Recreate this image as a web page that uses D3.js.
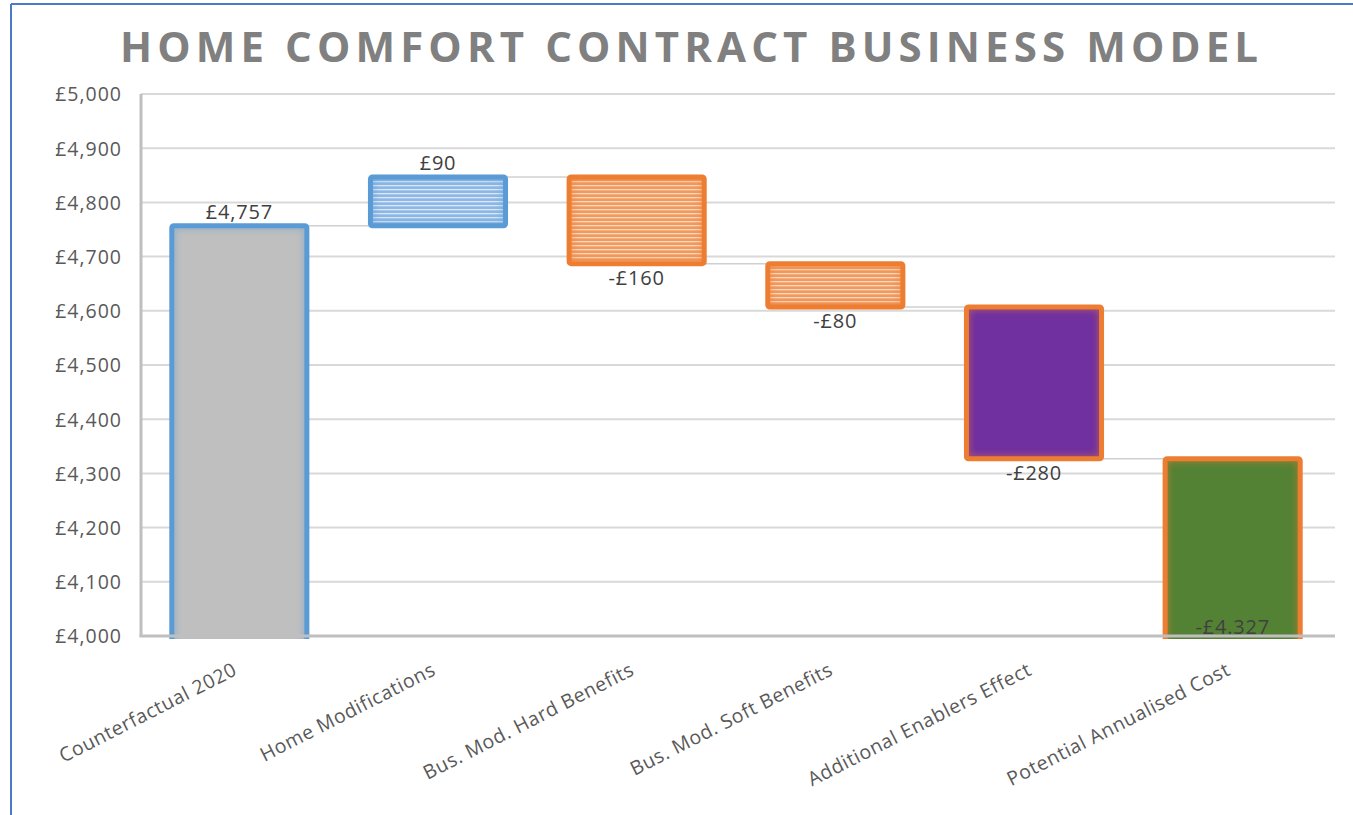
<!DOCTYPE html>
<html>
<head>
<meta charset="utf-8">
<script src="https://cdn.jsdelivr.net/npm/d3@7"></script>
<style>
  html, body { margin: 0; padding: 0; background: #fff; }
  svg { display: block; }
  text { font-family: "Open Sans", "Noto Sans", sans-serif; }
</style>
</head>
<body>
<svg id="chart" width="1353" height="815"></svg>
<script>
// Waterfall steps: annual cost build-up (GBP)
const categories = [
  "Counterfactual 2020",
  "Home Modifications",
  "Bus. Mod. Hard Benefits",
  "Bus. Mod. Soft Benefits",
  "Additional Enablers Effect",
  "Potential Annualised Cost"
];
const stepValues = [4757, 90, -160, -80, -280, 4327];
const isTotal = [true, false, false, false, false, true];
const valueLabels = ["£4,757", "£90", "-£160", "-£80", "-£280", "-£4.327"];
const yTicks = [4000, 4100, 4200, 4300, 4400, 4500, 4600, 4700, 4800, 4900, 5000];
const fillKeys = ["grey", "blueHatch", "orangeHatch", "orangeHatch", "purple", "green"];
const strokeColors = ["#5b9bd5", "#5b9bd5", "#ed7d31", "#ed7d31", "#ed7d31", "#ed7d31"];
const title = "HOME COMFORT CONTRACT BUSINESS MODEL";

// Running totals -> start/end of each bar
let running = 0;
const bars = categories.map((c, i) => {
  let start, end;
  if (isTotal[i]) { start = 0; end = stepValues[i]; running = stepValues[i]; }
  else { start = running; end = running + stepValues[i]; running = end; }
  return { cat: c, start, end, value: stepValues[i], label: valueLabels[i], fill: fillKeys[i], stroke: strokeColors[i], total: isTotal[i], i };
});

const svg = d3.select("#chart");
const defs = svg.append("defs");

// Fill patterns
const solid = { grey: "#bfbfbf", purple: "#7030a0", green: "#548235" };
function hatch(id, base, line) {
  const p = defs.append("pattern").attr("id", id).attr("patternUnits", "userSpaceOnUse")
    .attr("width", 8).attr("height", 4);
  p.append("rect").attr("width", 8).attr("height", 4).attr("fill", base);
  p.append("rect").attr("y", 1).attr("width", 8).attr("height", 1.3).attr("fill", line);
}
hatch("blueHatch", "#8db8e6", "#dbe8f7");
hatch("orangeHatch", "#f19a5e", "#fbd8c0");
const fillOf = k => solid[k] ? solid[k] : `url(#${k})`;

defs.append("filter").attr("id", "soft").attr("x", "-10%").attr("y", "-10%").attr("width", "120%").attr("height", "120%")
  .append("feGaussianBlur").attr("stdDeviation", 3.5);

const plot = { left: 141, right: 1335, top: 94, bottom: 636 };

const x = d3.scaleBand().domain(categories).range([140, 1332]).paddingInner(0.32).paddingOuter(0.16);
const y = d3.scaleLinear().domain([4000, 5000]).range([plot.bottom, plot.top]);

// Outer frame
svg.append("line").attr("x1", 11).attr("x2", 1353).attr("y1", 4).attr("y2", 4)
  .attr("stroke", "#4a7ac8").attr("stroke-width", 2);
svg.append("line").attr("x1", 11).attr("x2", 11).attr("y1", 4).attr("y2", 815)
  .attr("stroke", "#4a7ac8").attr("stroke-width", 2);

// Title
svg.append("text").attr("x", 689).attr("y", 62).attr("text-anchor", "middle")
  .attr("font-size", 42).attr("font-weight", 700).attr("fill", "#808080")
  .attr("textLength", 1138).attr("lengthAdjust", "spacing")
  .text(title);

// Gridlines
svg.append("g").selectAll("line").data(yTicks.filter(t => t > 4000)).join("line")
  .attr("x1", plot.left).attr("x2", plot.right)
  .attr("y1", d => y(d)).attr("y2", d => y(d))
  .attr("stroke", "#d9d9d9").attr("stroke-width", 2);

// Y axis labels
const yAxis = d3.axisLeft(y).tickValues(yTicks).tickSize(0).tickPadding(0)
  .tickFormat(d => "£" + d3.format(",")(d));
const ga = svg.append("g").attr("transform", `translate(122,0)`).call(yAxis);
ga.select(".domain").remove();
ga.selectAll("text").attr("font-size", 19.5).attr("fill", "#595959")
  .attr("font-family", "'Open Sans', sans-serif").attr("letter-spacing", 1).attr("dy", "0.35em");

// Connectors between consecutive bars
const conn = [];
for (let i = 0; i < bars.length - 1; i++) {
  conn.push({ level: bars[i].end, x1: x(bars[i].cat) + x.bandwidth(), x2: x(bars[i + 1].cat) });
}
svg.append("g").selectAll("line").data(conn).join("line")
  .attr("x1", d => d.x1).attr("x2", d => d.x2)
  .attr("y1", d => y(d.level)).attr("y2", d => y(d.level))
  .attr("stroke", "#d0d0d0").attr("stroke-width", 1.5);

// Bars (clipped a few pixels below the axis minimum)
defs.append("clipPath").attr("id", "plotClip").append("rect")
  .attr("x", 0).attr("y", 0).attr("width", 1353).attr("height", plot.bottom + 3);

const gb = svg.append("g").attr("clip-path", "url(#plotClip)");
const barG = gb.selectAll("g.bar").data(bars).join("g").attr("class", "bar");
function rectAttrs(sel) {
  sel.attr("x", d => x(d.cat))
    .attr("width", x.bandwidth())
    .attr("y", d => y(Math.max(d.start, d.end)))
    .attr("height", d => {
      const lo = Math.max(Math.min(d.start, d.end), 3980);
      return y(lo) - y(Math.max(d.start, d.end));
    });
}
barG.each(function (d) {
  const g = d3.select(this);
  const cid = "barClip" + d.i;
  const cp = defs.append("clipPath").attr("id", cid).append("rect");
  rectAttrs(cp.datum(d));
  g.append("rect").call(rectAttrs).attr("fill", fillOf(d.fill));
  // soft inner edge
  g.append("g").attr("clip-path", `url(#${cid})`)
    .append("rect").call(rectAttrs).attr("fill", "none")
    .attr("stroke", d.stroke).attr("stroke-width", 6).attr("opacity", 0.55)
    .attr("filter", "url(#soft)");
  g.append("rect").call(rectAttrs).attr("fill", "none")
    .attr("stroke", d.stroke).attr("stroke-width", 5).attr("rx", 2);
});

// Axis lines
svg.append("line").attr("x1", plot.left).attr("x2", plot.left).attr("y1", plot.top).attr("y2", plot.bottom + 1)
  .attr("stroke", "#bfbfbf").attr("stroke-width", 3);
svg.append("line").attr("x1", plot.left - 1.5).attr("x2", plot.right).attr("y1", plot.bottom).attr("y2", plot.bottom)
  .attr("stroke", "#bfbfbf").attr("stroke-width", 3);

// Value labels
svg.append("g").selectAll("text").data(bars).join("text")
  .attr("x", d => x(d.cat) + x.bandwidth() / 2)
  .attr("y", d => {
    if (d.total && d.i > 0) return y(4000) - 2;
    if (d.value >= 0) return y(d.end) - 7;
    return y(d.end) + 21;
  })
  .attr("text-anchor", "middle").attr("font-size", 20).attr("fill", "#404040")
  .attr("letter-spacing", 0.8)
  .text(d => d.label);

// Category labels (rotated)
svg.append("g").selectAll("text").data(categories).join("text")
  .attr("transform", d => `translate(${x(d) + x.bandwidth() / 2 - 1},674) rotate(-27)`)
  .attr("text-anchor", "end").attr("font-size", 19.5).attr("fill", "#595959")
  .attr("letter-spacing", 0.6)
  .text(d => d);
</script>
</body>
</html>
